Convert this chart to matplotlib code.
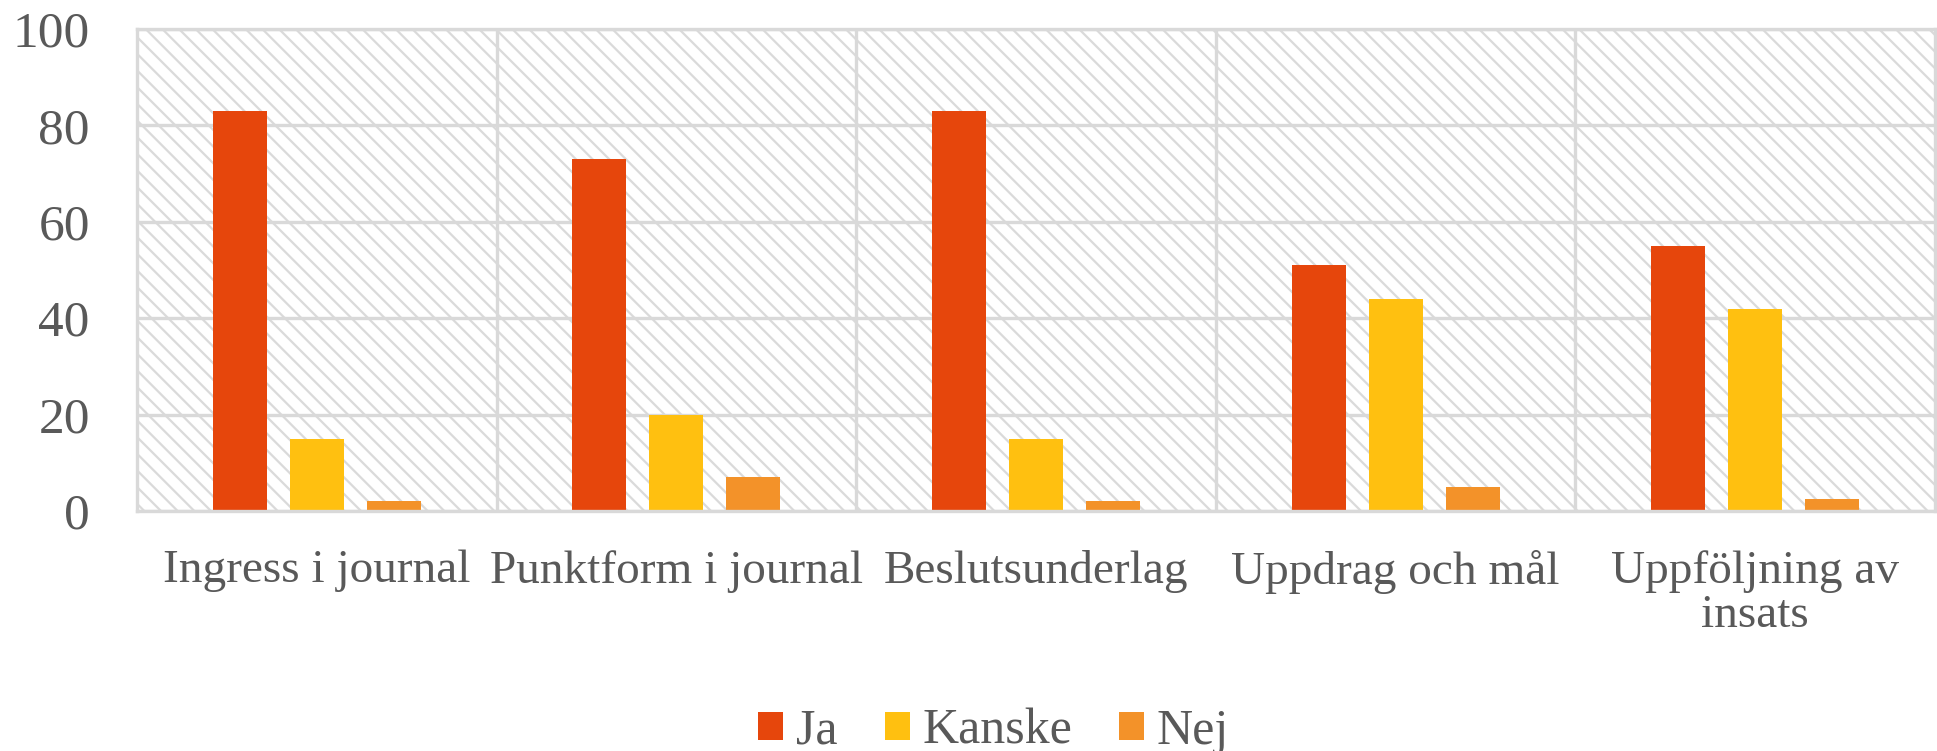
import numpy as np
import matplotlib
matplotlib.use('Agg')
import matplotlib.pyplot as plt
from matplotlib.patches import Rectangle
from matplotlib.ticker import FixedLocator

# data
categories = ['Ingress i journal', 'Punktform i journal', 'Beslutsunderlag',
              'Uppdrag och mål', 'Uppföljning av\ninsats']
ja = [83, 73, 83, 51, 55]
kanske = [15, 20, 15, 44, 42]
nej = [2, 7, 2, 5, 2.5]
series_names = ['Ja', 'Kanske', 'Nej']
yticks = [0, 20, 40, 60, 80, 100]

colors = ['#E6460C', '#FFC010', '#F39229']
grid_col = '#D9D9D9'
text_col = '#595959'

plt.rcParams['font.family'] = ['Liberation Serif', 'DejaVu Serif']
plt.rcParams['hatch.linewidth'] = 1.6

fig = plt.figure(figsize=(19.37, 7.51), dpi=100)
ax = fig.add_axes([137 / 1937, 1 - 511 / 751, 1798 / 1937, 482 / 751])

# hatched plot area background
bg = Rectangle((0, 0), 1, 1, transform=ax.transAxes, facecolor='white',
               edgecolor='#DADADA', linewidth=0, hatch='\\\\', zorder=0.1)
ax.add_patch(bg)

x = np.arange(len(categories))
width = 0.15
step = 0.214
for i, (vals, name) in enumerate(zip([ja, kanske, nej], series_names)):
    ax.bar(x + (i - 1) * step, vals, width, color=colors[i], label=name, zorder=2)

ax.set_xlim(-0.5, len(categories) - 0.5)
ax.set_ylim(0, 100)
ax.set_yticks(yticks)
ax.set_xticks(x)
ax.set_xticklabels(categories, linespacing=1.05)
ax.xaxis.set_minor_locator(FixedLocator(np.arange(0.5, len(categories) - 0.5, 1)))

ax.grid(axis='y', which='major', color=grid_col, linewidth=2.4, zorder=0.5)
ax.grid(axis='x', which='minor', color=grid_col, linewidth=2.4, zorder=0.5)
ax.grid(axis='x', which='major', visible=False)

for s in ax.spines.values():
    s.set_color(grid_col)
    s.set_linewidth(2.4)

ax.tick_params(axis='both', which='both', length=0)
ax.tick_params(axis='y', labelsize=37, labelcolor=text_col, pad=34)
ax.tick_params(axis='x', labelsize=34, labelcolor=text_col, pad=28)

fig.legend(loc='center', bbox_to_anchor=(0.513, 0.026), ncol=3, frameon=False,
           fontsize=36, labelcolor=text_col, handlelength=0.5, handleheight=0.5,
           handletextpad=0.25, columnspacing=0.95)

fig.savefig('out.png', dpi=100)
